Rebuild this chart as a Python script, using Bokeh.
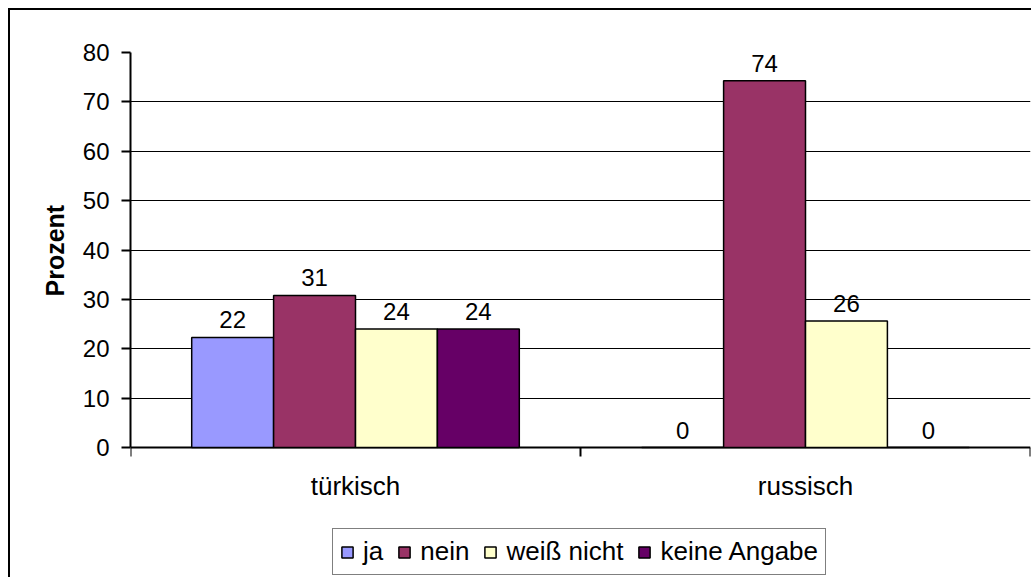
from bokeh.plotting import figure
from bokeh.models import (ColumnDataSource, Range1d, FixedTicker, Legend, LegendItem,
                          LinearAxis, Grid, Title)
from bokeh.core.properties import value
from bokeh.embed import file_html
from bokeh.resources import INLINE

categories = ["türkisch", "russisch"]
series = ["ja", "nein", "weiß nicht", "keine Angabe"]
ja = [22.3, 0.0]
nein = [30.8, 74.3]
weiss_nicht = [24.0, 25.6]
keine_angabe = [24.0, 0.0]
colors = ["#9999FF", "#993366", "#FFFFCC", "#660066"]
y_ticks = [0, 10, 20, 30, 40, 50, 60, 70, 80]
y_label = "Prozent"

FONT = "Liberation Sans"
BAR_W = 0.182

# geometry (pixels)
W, H = 1023, 569
TOP, LEFT, RIGHT = 42, 120, 3
AXIS_H = 395            # pixel height of 0..80
BELOW = H - TOP - AXIS_H  # pixels of frame below y=0 (room for legend)
Y_MAX = y_ticks[-1]
PX_PER_UNIT = AXIS_H / Y_MAX
Y_MIN = -BELOW / PX_PER_UNIT
TICK_LEN = 9 / PX_PER_UNIT
LABEL_LEN = 93          # approx. pixel length of the rotated y title

p = figure(width=W, height=H, output_backend="svg", toolbar_location=None,
           x_range=Range1d(0, len(categories)), y_range=Range1d(Y_MIN, Y_MAX),
           min_border_left=LEFT, min_border_top=TOP, min_border_right=RIGHT,
           min_border_bottom=0, x_axis_type=None, y_axis_type=None)
p.styles = {"border-left": "2px solid black", "border-top": "2px solid black",
            "margin-left": "8px", "margin-top": "8px"}
p.background_fill_color = "white"
p.border_fill_color = "white"
p.outline_line_color = None

# y axis limited to 0..80
yax = LinearAxis(ticker=FixedTicker(ticks=y_ticks, minor_ticks=[]), bounds=(0, Y_MAX))
yax.major_label_text_font = FONT
yax.major_label_text_font_size = "24px"
yax.major_label_text_color = "black"
yax.major_label_standoff = 12
yax.major_tick_out = 9
yax.major_tick_in = 0
yax.axis_line_width = 2
yax.major_tick_line_width = 2
yax.axis_line_color = "black"
yax.major_tick_line_color = "black"
p.add_layout(yax, "left")

# y axis title, centred on the 0..80 part of the axis
ytitle = Title(text=y_label, align="left", text_font=FONT, text_font_size="25px",
               text_font_style="bold", text_color="black", standoff=22,
               offset=BELOW + (AXIS_H - LABEL_LEN) / 2)
p.add_layout(ytitle, "left")

# horizontal grid lines 10..70
grid = Grid(dimension=1, ticker=FixedTicker(ticks=y_ticks[1:-1], minor_ticks=[]))
grid.grid_line_color = "black"
grid.grid_line_width = 1.2
p.add_layout(grid)

# plot-area border (gray top and right)
top_border = Grid(dimension=1, ticker=FixedTicker(ticks=[Y_MAX], minor_ticks=[]))
top_border.grid_line_color = "#808080"
top_border.grid_line_width = 1.5
p.add_layout(top_border)
right_border = Grid(dimension=0, ticker=FixedTicker(ticks=[len(categories)], minor_ticks=[]),
                    bounds=(0, Y_MAX))
right_border.grid_line_color = "#808080"
right_border.grid_line_width = 2.5
p.add_layout(right_border)

# category axis (line at 0, ticks at category boundaries, labels at centres)
base = Grid(dimension=1, ticker=FixedTicker(ticks=[0], minor_ticks=[]))
base.grid_line_color = "black"
base.grid_line_width = 2
p.add_layout(base)
bounds_x = list(range(len(categories) + 1))
p.segment(x0=bounds_x, y0=[0] * len(bounds_x), x1=bounds_x, y1=[-TICK_LEN] * len(bounds_x),
          line_color="black", line_width=2)
p.text(x=[i + 0.5 for i in range(len(categories))], y=[0] * len(categories), text=categories,
       text_align="center", text_baseline="top", y_offset=23, text_font=value(FONT),
       text_font_size="26px", text_color="black")

data = [ja, nein, weiss_nicht, keine_angabe]
items = []
n = len(series)
for k, (name, vals, col) in enumerate(zip(series, data, colors)):
    off = (k - (n - 1) / 2) * BAR_W
    xs = [i + 0.5 + off for i in range(len(categories))]
    src = ColumnDataSource(dict(x=xs, top=vals, lab=[str(int(round(v))) for v in vals]))
    r = p.vbar(x="x", top="top", width=BAR_W, bottom=0, source=src,
               fill_color=col, line_color="black", line_width=1.5)
    p.text(x="x", y="top", text="lab", source=src, text_align="center",
           text_baseline="bottom", y_offset=-9, text_font=value(FONT),
           text_font_size="24px", text_color="black")
    items.append(LegendItem(label=name, renderers=[r]))

legend = Legend(items=items, orientation="horizontal", location=(202, 4))
legend.label_text_font = FONT
legend.label_text_font_size = "26px"
legend.label_text_color = "black"
legend.glyph_width = 14
legend.glyph_height = 14
legend.label_standoff = 9
legend.spacing = 14
legend.padding = 7
legend.margin = 0
legend.border_line_color = "black"
legend.border_line_width = 1.5
legend.background_fill_alpha = 1
p.add_layout(legend, "center")

open("out.html", "w").write(file_html(p, INLINE))
